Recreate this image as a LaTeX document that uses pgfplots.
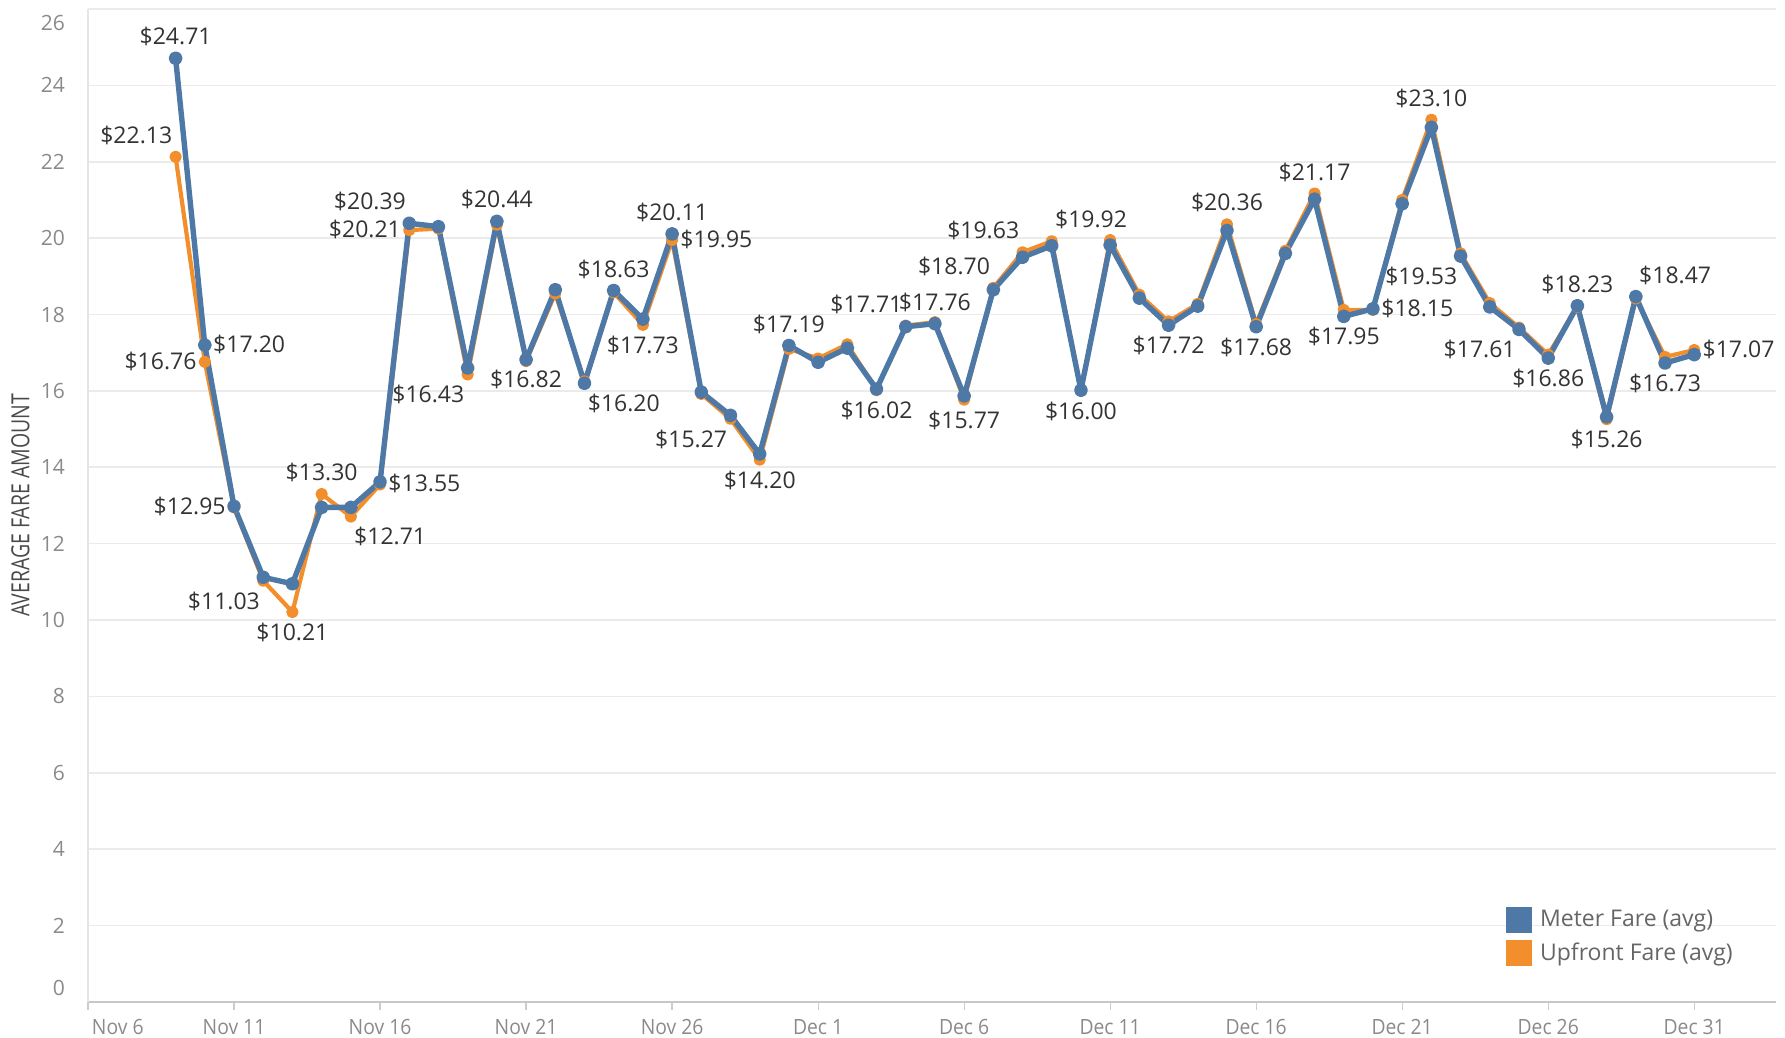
\documentclass[border=0pt]{standalone}
\usepackage{pgfplots}
\pgfplotsset{compat=1.18}
\usepackage{pgfplotstable}
\usepackage{fontspec}
\setmainfont{Open Sans}
\newfontfamily\condfont[FakeStretch=0.78]{Open Sans}
\newfontfamily\tickfont[FakeStretch=0.92]{Open Sans}
\definecolor{mblue}{HTML}{4E79A7}
\definecolor{uorange}{HTML}{F28E2B}
\definecolor{lblc}{HTML}{333333}
\definecolor{gridc}{HTML}{EBEBEB}
\definecolor{tickc}{HTML}{8A8A8A}
\definecolor{titc}{HTML}{4A4A4A}
\definecolor{legc}{HTML}{666666}

\pgfplotstableread{
day meter upfront
3 24.71 22.13
4 17.20 16.76
5 12.98 12.95
6 11.12 11.03
7 10.95 10.21
8 12.95 13.30
9 12.95 12.71
10 13.62 13.55
11 20.39 20.21
12 20.30 20.25
13 16.60 16.43
14 20.44 20.35
15 16.82 16.78
16 18.65 18.55
17 16.20 16.25
18 18.63 18.58
19 17.88 17.73
20 20.11 19.95
21 15.97 15.92
22 15.36 15.27
23 14.35 14.20
24 17.19 17.10
25 16.75 16.85
26 17.12 17.22
27 16.05 16.02
28 17.68 17.71
29 17.76 17.80
30 15.87 15.77
31 18.65 18.70
32 19.50 19.63
33 19.80 19.92
34 16.02 16.00
35 19.82 19.95
36 18.43 18.52
37 17.72 17.82
38 18.22 18.28
39 20.20 20.36
40 17.68 17.75
41 19.60 19.67
42 21.02 21.17
43 17.95 18.12
44 18.15 18.12
45 20.90 21.00
46 22.90 23.10
47 19.53 19.60
48 18.20 18.30
49 17.61 17.66
50 16.86 16.95
51 18.23 18.20
52 15.32 15.26
53 18.47 18.42
54 16.73 16.89
55 16.95 17.07
}\fares

\tikzset{
  lab/.style={text=lblc, font=\fontsize{11.5}{12}\selectfont, inner sep=1.5pt, text height=8.5pt, text depth=1pt},
  lS/.style={anchor=south, yshift=4pt},
  lN/.style={anchor=north, yshift=-4pt},
  lE/.style={anchor=east, xshift=-2.5pt},
  lW/.style={anchor=west, xshift=2.5pt},
  lSE/.style={anchor=south east, yshift=4pt},
  lSW/.style={anchor=south west, yshift=4pt},
  lNE/.style={anchor=north east, yshift=-4pt},
  lNW/.style={anchor=north west, yshift=-4pt},
}
\newcommand\lb[3]{\node[lab,l#1] at (axis cs:#2,#3) {\$#3};}

\begin{document}
\begin{tikzpicture}
\begin{axis}[
  at={(44pt,18pt)}, anchor=south west,
  scale only axis, width=844pt, height=496.5pt,
  xmin=0, xmax=57.8, ymin=0, ymax=26,
  axis lines=left,
  axis line style={-},
  x axis line style={draw=black!22, line width=0.8pt},
  y axis line style={draw=black!10, line width=0.8pt},
  ytick={0,2,...,26},
  yticklabels={{\raisebox{6.8pt}[\height][\depth]{0}},2,4,6,8,10,12,14,16,18,20,22,24,{\raisebox{-6.8pt}[\height][\depth]{26}}},
  ytick style={draw=none},
  yticklabel style={font=\fontsize{10.5}{12}\selectfont, text=tickc, xshift=-4pt},
  xtick={0,5,...,55},
  xticklabels={{\makebox[0pt][l]{\hspace{2pt}Nov 6}},Nov 11,Nov 16,Nov 21,Nov 26,Dec 1,Dec 6,Dec 11,Dec 16,Dec 21,Dec 26,Dec 31},
  xticklabel style={font=\tickfont\fontsize{10.5}{12}\selectfont, text=tickc, yshift=-1pt},
  xtick style={draw=black!20, line width=0.6pt},
  tick align=outside,
  major tick length=4pt,
  ymajorgrids,
  grid style={draw=gridc, line width=0.8pt},
  ylabel={AVERAGE FARE AMOUNT},
  ylabel style={at={(axis description cs:-0.040,0.5)}, anchor=center, font=\condfont\fontsize{12.5}{14}\selectfont, text=titc},
  legend style={at={(0.840,0.097)}, anchor=north west, draw=none, fill=none,
    font=\fontsize{11.5}{13}\selectfont, text=legc, row sep=2.5pt, inner sep=0pt},
  legend cell align=left,
  clip=false,
]
\draw[gridc, line width=0.8pt] (rel axis cs:0,1) -- (rel axis cs:1,1);
\addplot[uorange, line width=2.1pt, line join=round, mark=*, mark size=2pt, forget plot] table[x=day,y=upfront]{\fares};
\addplot[mblue, line width=2.7pt, line join=round, mark=*, mark size=2.1pt, forget plot] table[x=day,y=meter]{\fares};
\addlegendimage{legend image code/.code={\fill[mblue] (0pt,-6.2pt) rectangle (12.4pt,6.2pt); \path (14.5pt,0pt);}}
\addlegendentry{Meter Fare (avg)}
\addlegendimage{legend image code/.code={\fill[uorange] (0pt,-6.2pt) rectangle (12.4pt,6.2pt); \path (14.5pt,0pt);}}
\addlegendentry{Upfront Fare (avg)}
\lb{S}{3}{24.71}
\lb{SE}{3}{22.13}
\lb{W}{4}{17.20}
\lb{E}{4}{16.76}
\lb{E}{5}{12.95}
\lb{NE}{6}{11.03}
\lb{N}{7}{10.21}
\lb{S}{8}{13.30}
\lb{NW}{9}{12.71}
\lb{W}{10}{13.55}
\lb{SE}{11}{20.39}
\lb{E}{11}{20.21}
\lb{NE}{13}{16.43}
\lb{S}{14}{20.44}
\lb{N}{15}{16.82}
\lb{NW}{17}{16.20}
\lb{S}{18}{18.63}
\lb{N}{19}{17.73}
\lb{S}{20}{20.11}
\lb{W}{20}{19.95}
\lb{NE}{22}{15.27}
\lb{N}{23}{14.20}
\lb{S}{24}{17.19}
\lb{N}{27}{16.02}
\lb{SE}{28}{17.71}
\lb{S}{29}{17.76}
\lb{N}{30}{15.77}
\lb{SE}{31}{18.70}
\lb{SE}{32}{19.63}
\lb{SW}{33}{19.92}
\lb{N}{34}{16.00}
\lb{N}{37}{17.72}
\lb{S}{39}{20.36}
\lb{N}{40}{17.68}
\lb{S}{42}{21.17}
\lb{N}{43}{17.95}
\lb{W}{44}{18.15}
\lb{S}{46}{23.10}
\lb{NE}{47}{19.53}
\lb{NE}{49}{17.61}
\lb{N}{50}{16.86}
\lb{S}{51}{18.23}
\lb{N}{52}{15.26}
\lb{SW}{53}{18.47}
\lb{N}{54}{16.73}
\lb{W}{55}{17.07}
\end{axis}
\pgfresetboundingbox
\path[use as bounding box] (0,0) rectangle (892.5pt,519pt);
\end{tikzpicture}
\end{document}
